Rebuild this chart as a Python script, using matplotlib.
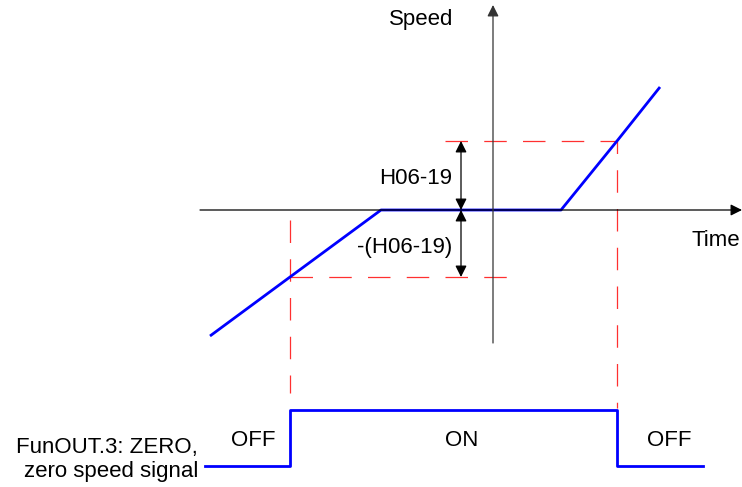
import matplotlib
matplotlib.use("Agg")
import matplotlib.pyplot as plt

# Speed profile (time offset from speed axis, speed; arbitrary units, px-scaled)
time_pts = [-283, -203, -112, 68, 124, 167]
speed_pts = [-126, -67, 0, 0, 69, 123]
threshold = 69          # H06-19
neg_threshold = -67     # -(H06-19)

# ZERO signal (time, level)
sig_time = [-288, -203, -203, 124, 124, 210]
sig_level = ["OFF", "OFF", "ON", "ON", "OFF", "OFF"]
sig_labels = ["OFF", "ON", "OFF"]
sig_y = {"OFF": -256, "ON": -200}

plt.rcParams['font.family'] = ['Liberation Sans', 'DejaVu Sans']
fig = plt.figure(figsize=(7.42, 4.87), dpi=100)
ax = fig.add_axes([0, 0, 1, 1])
ax.set_xlim(-493, 249)
ax.set_ylim(-277, 210)
ax.axis('off')

fs = 16

# axes
ax.annotate('', xy=(249, 0), xytext=(-293, 0),
            arrowprops=dict(arrowstyle='-|>', color='black', lw=0.9, mutation_scale=17, shrinkA=0, shrinkB=0))
ax.annotate('', xy=(0, 205), xytext=(0, -133),
            arrowprops=dict(arrowstyle='-|>', color='#333333', lw=0.9, mutation_scale=17, shrinkA=0, shrinkB=0))
ax.text(-72, 190, 'Speed', fontsize=fs, ha='center', va='center')
ax.text(223, -30, 'Time', fontsize=fs, ha='center', va='center')

# red dashed guides
red = '#ff3030'
dash = (0, (18, 13))
ax.plot([-48, time_pts[4]], [threshold, threshold], color=red, lw=0.9, ls=dash)
ax.plot([time_pts[4], time_pts[4]], [threshold, sig_y["ON"] + 2], color=red, lw=0.9, ls=(8, (18, 13)))
ax.plot([time_pts[1], 19], [neg_threshold, neg_threshold], color=red, lw=0.9, ls=dash)
ax.plot([time_pts[1], time_pts[1]], [-10, -183], color=red, lw=0.9, ls=dash)

# speed line
ax.plot(time_pts, speed_pts, color='#0000ff', lw=2.0, solid_capstyle='butt')

# double arrows
ax.annotate('', xy=(-32, threshold), xytext=(-32, 0),
            arrowprops=dict(arrowstyle='<|-|>', color='black', lw=0.9, mutation_scale=17, shrinkA=0, shrinkB=0))
ax.annotate('', xy=(-32, neg_threshold), xytext=(-32, 0),
            arrowprops=dict(arrowstyle='<|-|>', color='black', lw=0.9, mutation_scale=17, shrinkA=0, shrinkB=0))
ax.text(-41, 32, 'H06-19', fontsize=fs, ha='right', va='center')
ax.text(-41, -38, '-(H06-19)', fontsize=fs, ha='right', va='center')

# signal
ax.plot(sig_time, [sig_y[s] for s in sig_level], color='#0000ff', lw=2.0)
ax.text(-240, -230, sig_labels[0], fontsize=fs, ha='center', va='center')
ax.text(-31, -230, sig_labels[1], fontsize=fs, ha='center', va='center')
ax.text(176, -230, sig_labels[2], fontsize=fs, ha='center', va='center')
ax.text(-295, -238, 'FunOUT.3: ZERO,', fontsize=fs, ha='right', va='center')
ax.text(-295, -261, 'zero speed signal', fontsize=fs, ha='right', va='center')

fig.savefig('out.png', dpi=100)
